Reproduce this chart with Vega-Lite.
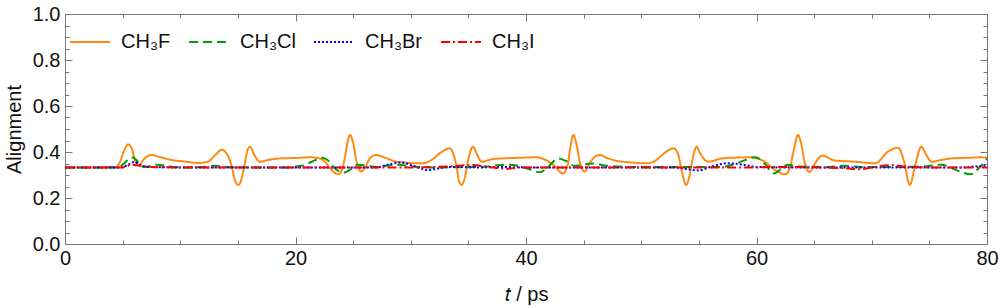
{
  "$schema": "https://vega.github.io/schema/vega-lite/v6.json",
  "width": 922,
  "height": 230,
  "padding": {"left": 65, "top": 14, "right": 13, "bottom": 64},
  "autosize": {"type": "none"},
  "background": "white",
  "config": {
    "font": "Liberation Sans",
    "view": {"stroke": "#777777", "strokeWidth": 1},
    "axis": {"grid": false, "domain": false, "labelFont": "Liberation Sans", "titleFont": "Liberation Sans", "tickColor": "#777777", "labelColor": "#111111", "titleColor": "#111111", "labelFlush": false, "labelOverlap": false}
  },
  "data": {"values": [
    {"m":"CH₃F","t":0,"v":0.333},{"m":"CH₃F","t":3.5,"v":0.333},{"m":"CH₃F","t":4.0,"v":0.336},{"m":"CH₃F","t":4.4,"v":0.334},{"m":"CH₃F","t":4.8,"v":0.36},{"m":"CH₃F","t":5.2,"v":0.415},{"m":"CH₃F","t":5.5,"v":0.433},{"m":"CH₃F","t":5.8,"v":0.415},{"m":"CH₃F","t":6.1,"v":0.36},{"m":"CH₃F","t":6.4,"v":0.343},{"m":"CH₃F","t":6.9,"v":0.372},{"m":"CH₃F","t":7.5,"v":0.387},{"m":"CH₃F","t":8.3,"v":0.377},{"m":"CH₃F","t":9.3,"v":0.365},{"m":"CH₃F","t":10.5,"v":0.358},{"m":"CH₃F","t":11.6,"v":0.352},{"m":"CH₃F","t":12.4,"v":0.358},{"m":"CH₃F","t":13.0,"v":0.385},{"m":"CH₃F","t":13.6,"v":0.41},{"m":"CH₃F","t":14.0,"v":0.395},{"m":"CH₃F","t":14.4,"v":0.35},{"m":"CH₃F","t":14.8,"v":0.27},{"m":"CH₃F","t":15.05,"v":0.257},{"m":"CH₃F","t":15.3,"v":0.28},{"m":"CH₃F","t":15.6,"v":0.35},{"m":"CH₃F","t":15.85,"v":0.41},{"m":"CH₃F","t":16.05,"v":0.423},{"m":"CH₃F","t":16.4,"v":0.39},{"m":"CH₃F","t":16.9,"v":0.358},{"m":"CH₃F","t":17.6,"v":0.365},{"m":"CH₃F","t":18.6,"v":0.372},{"m":"CH₃F","t":20.0,"v":0.374},{"m":"CH₃F","t":21.3,"v":0.377},{"m":"CH₃F","t":22.1,"v":0.372},{"m":"CH₃F","t":22.6,"v":0.355},{"m":"CH₃F","t":23.0,"v":0.329},{"m":"CH₃F","t":23.7,"v":0.303},{"m":"CH₃F","t":24.0,"v":0.32},{"m":"CH₃F","t":24.3,"v":0.38},{"m":"CH₃F","t":24.5,"v":0.44},{"m":"CH₃F","t":24.73,"v":0.474},{"m":"CH₃F","t":25.0,"v":0.44},{"m":"CH₃F","t":25.3,"v":0.36},{"m":"CH₃F","t":25.7,"v":0.315},{"m":"CH₃F","t":26.0,"v":0.33},{"m":"CH₃F","t":26.5,"v":0.375},{"m":"CH₃F","t":27.0,"v":0.387},{"m":"CH₃F","t":27.8,"v":0.375},{"m":"CH₃F","t":28.6,"v":0.36},{"m":"CH₃F","t":30.0,"v":0.352},{"m":"CH₃F","t":31.0,"v":0.351},{"m":"CH₃F","t":31.8,"v":0.365},{"m":"CH₃F","t":32.7,"v":0.401},{"m":"CH₃F","t":33.4,"v":0.416},{"m":"CH₃F","t":33.7,"v":0.39},{"m":"CH₃F","t":34.0,"v":0.33},{"m":"CH₃F","t":34.2,"v":0.27},{"m":"CH₃F","t":34.42,"v":0.257},{"m":"CH₃F","t":34.7,"v":0.29},{"m":"CH₃F","t":35.0,"v":0.37},{"m":"CH₃F","t":35.4,"v":0.423},{"m":"CH₃F","t":35.7,"v":0.395},{"m":"CH₃F","t":36.15,"v":0.358},{"m":"CH₃F","t":37.0,"v":0.368},{"m":"CH₃F","t":37.9,"v":0.372},{"m":"CH₃F","t":39.5,"v":0.375},{"m":"CH₃F","t":40.8,"v":0.377},{"m":"CH₃F","t":41.5,"v":0.37},{"m":"CH₃F","t":42.4,"v":0.343},{"m":"CH₃F","t":43.2,"v":0.307},{"m":"CH₃F","t":43.6,"v":0.34},{"m":"CH₃F","t":43.85,"v":0.42},{"m":"CH₃F","t":44.1,"v":0.474},{"m":"CH₃F","t":44.4,"v":0.43},{"m":"CH₃F","t":44.7,"v":0.35},{"m":"CH₃F","t":45.1,"v":0.315},{"m":"CH₃F","t":45.5,"v":0.35},{"m":"CH₃F","t":46.0,"v":0.38},{"m":"CH₃F","t":46.4,"v":0.387},{"m":"CH₃F","t":47.0,"v":0.375},{"m":"CH₃F","t":47.9,"v":0.361},{"m":"CH₃F","t":49.0,"v":0.355},{"m":"CH₃F","t":50.5,"v":0.351},{"m":"CH₃F","t":51.3,"v":0.365},{"m":"CH₃F","t":52.0,"v":0.395},{"m":"CH₃F","t":52.8,"v":0.416},{"m":"CH₃F","t":53.2,"v":0.39},{"m":"CH₃F","t":53.5,"v":0.32},{"m":"CH₃F","t":53.9,"v":0.257},{"m":"CH₃F","t":54.2,"v":0.3},{"m":"CH₃F","t":54.5,"v":0.38},{"m":"CH₃F","t":54.8,"v":0.423},{"m":"CH₃F","t":55.1,"v":0.395},{"m":"CH₃F","t":55.8,"v":0.358},{"m":"CH₃F","t":57.0,"v":0.372},{"m":"CH₃F","t":58.5,"v":0.376},{"m":"CH₃F","t":59.6,"v":0.377},{"m":"CH₃F","t":60.7,"v":0.358},{"m":"CH₃F","t":61.6,"v":0.322},{"m":"CH₃F","t":62.5,"v":0.303},{"m":"CH₃F","t":62.9,"v":0.33},{"m":"CH₃F","t":63.2,"v":0.4},{"m":"CH₃F","t":63.6,"v":0.474},{"m":"CH₃F","t":63.9,"v":0.43},{"m":"CH₃F","t":64.2,"v":0.35},{"m":"CH₃F","t":64.6,"v":0.313},{"m":"CH₃F","t":65.0,"v":0.345},{"m":"CH₃F","t":65.7,"v":0.384},{"m":"CH₃F","t":66.8,"v":0.363},{"m":"CH₃F","t":68.5,"v":0.358},{"m":"CH₃F","t":70.3,"v":0.351},{"m":"CH₃F","t":71.4,"v":0.401},{"m":"CH₃F","t":72.3,"v":0.419},{"m":"CH₃F","t":72.8,"v":0.36},{"m":"CH₃F","t":73.3,"v":0.257},{"m":"CH₃F","t":73.8,"v":0.35},{"m":"CH₃F","t":74.3,"v":0.423},{"m":"CH₃F","t":74.7,"v":0.39},{"m":"CH₃F","t":75.2,"v":0.357},{"m":"CH₃F","t":76.0,"v":0.365},{"m":"CH₃F","t":76.9,"v":0.372},{"m":"CH₃F","t":78.5,"v":0.375},{"m":"CH₃F","t":79.5,"v":0.377},{"m":"CH₃F","t":80,"v":0.375},
    {"m":"CH₃Cl","t":0,"v":0.333},{"m":"CH₃Cl","t":4.5,"v":0.333},{"m":"CH₃Cl","t":5.0,"v":0.345},{"m":"CH₃Cl","t":5.5,"v":0.368},{"m":"CH₃Cl","t":5.8,"v":0.377},{"m":"CH₃Cl","t":6.2,"v":0.365},{"m":"CH₃Cl","t":6.6,"v":0.338},{"m":"CH₃Cl","t":7.0,"v":0.335},{"m":"CH₃Cl","t":7.9,"v":0.345},{"m":"CH₃Cl","t":9.0,"v":0.338},{"m":"CH₃Cl","t":10,"v":0.333},{"m":"CH₃Cl","t":12,"v":0.335},{"m":"CH₃Cl","t":13,"v":0.34},{"m":"CH₃Cl","t":14,"v":0.335},{"m":"CH₃Cl","t":16,"v":0.333},{"m":"CH₃Cl","t":19,"v":0.333},{"m":"CH₃Cl","t":20.5,"v":0.34},{"m":"CH₃Cl","t":21.5,"v":0.36},{"m":"CH₃Cl","t":22.3,"v":0.375},{"m":"CH₃Cl","t":22.9,"v":0.36},{"m":"CH₃Cl","t":23.5,"v":0.325},{"m":"CH₃Cl","t":24.2,"v":0.31},{"m":"CH₃Cl","t":24.8,"v":0.325},{"m":"CH₃Cl","t":25.4,"v":0.345},{"m":"CH₃Cl","t":26.2,"v":0.34},{"m":"CH₃Cl","t":27,"v":0.335},{"m":"CH₃Cl","t":28.8,"v":0.345},{"m":"CH₃Cl","t":30,"v":0.338},{"m":"CH₃Cl","t":32,"v":0.333},{"m":"CH₃Cl","t":36,"v":0.335},{"m":"CH₃Cl","t":38.4,"v":0.345},{"m":"CH₃Cl","t":39.5,"v":0.338},{"m":"CH₃Cl","t":40.3,"v":0.325},{"m":"CH₃Cl","t":41.2,"v":0.312},{"m":"CH₃Cl","t":41.9,"v":0.335},{"m":"CH₃Cl","t":42.8,"v":0.372},{"m":"CH₃Cl","t":43.5,"v":0.36},{"m":"CH₃Cl","t":44.2,"v":0.34},{"m":"CH₃Cl","t":45.8,"v":0.35},{"m":"CH₃Cl","t":47,"v":0.34},{"m":"CH₃Cl","t":49,"v":0.335},{"m":"CH₃Cl","t":52,"v":0.335},{"m":"CH₃Cl","t":57,"v":0.335},{"m":"CH₃Cl","t":58.5,"v":0.355},{"m":"CH₃Cl","t":59.9,"v":0.377},{"m":"CH₃Cl","t":60.7,"v":0.35},{"m":"CH₃Cl","t":61.5,"v":0.307},{"m":"CH₃Cl","t":62.1,"v":0.325},{"m":"CH₃Cl","t":62.7,"v":0.345},{"m":"CH₃Cl","t":63.5,"v":0.337},{"m":"CH₃Cl","t":66,"v":0.335},{"m":"CH₃Cl","t":67.6,"v":0.34},{"m":"CH₃Cl","t":69,"v":0.335},{"m":"CH₃Cl","t":72,"v":0.335},{"m":"CH₃Cl","t":74.5,"v":0.337},{"m":"CH₃Cl","t":76,"v":0.345},{"m":"CH₃Cl","t":77.5,"v":0.318},{"m":"CH₃Cl","t":78.6,"v":0.303},{"m":"CH₃Cl","t":79.3,"v":0.33},{"m":"CH₃Cl","t":80,"v":0.372},
    {"m":"CH₃Br","t":0,"v":0.333},{"m":"CH₃Br","t":4.8,"v":0.333},{"m":"CH₃Br","t":5.5,"v":0.345},{"m":"CH₃Br","t":6.0,"v":0.357},{"m":"CH₃Br","t":6.5,"v":0.345},{"m":"CH₃Br","t":7.2,"v":0.335},{"m":"CH₃Br","t":10,"v":0.333},{"m":"CH₃Br","t":27,"v":0.333},{"m":"CH₃Br","t":28,"v":0.345},{"m":"CH₃Br","t":29.2,"v":0.355},{"m":"CH₃Br","t":30.2,"v":0.34},{"m":"CH₃Br","t":31.5,"v":0.322},{"m":"CH₃Br","t":32.5,"v":0.33},{"m":"CH₃Br","t":33.5,"v":0.335},{"m":"CH₃Br","t":36,"v":0.333},{"m":"CH₃Br","t":38,"v":0.335},{"m":"CH₃Br","t":40,"v":0.333},{"m":"CH₃Br","t":53,"v":0.333},{"m":"CH₃Br","t":54.0,"v":0.325},{"m":"CH₃Br","t":55.0,"v":0.32},{"m":"CH₃Br","t":56.0,"v":0.335},{"m":"CH₃Br","t":57.5,"v":0.351},{"m":"CH₃Br","t":58.8,"v":0.345},{"m":"CH₃Br","t":60,"v":0.335},{"m":"CH₃Br","t":62,"v":0.333},{"m":"CH₃Br","t":78,"v":0.333},{"m":"CH₃Br","t":79,"v":0.338},{"m":"CH₃Br","t":80,"v":0.34},
    {"m":"CH₃I","t":0,"v":0.333},{"m":"CH₃I","t":5,"v":0.333},{"m":"CH₃I","t":5.8,"v":0.345},{"m":"CH₃I","t":6.5,"v":0.34},{"m":"CH₃I","t":7.5,"v":0.335},{"m":"CH₃I","t":10,"v":0.333},{"m":"CH₃I","t":30,"v":0.333},{"m":"CH₃I","t":33.5,"v":0.338},{"m":"CH₃I","t":35.3,"v":0.343},{"m":"CH₃I","t":36.5,"v":0.337},{"m":"CH₃I","t":38.4,"v":0.327},{"m":"CH₃I","t":39.5,"v":0.333},{"m":"CH₃I","t":42,"v":0.333},{"m":"CH₃I","t":60,"v":0.333},{"m":"CH₃I","t":61,"v":0.335},{"m":"CH₃I","t":67.5,"v":0.33},{"m":"CH₃I","t":69,"v":0.325},{"m":"CH₃I","t":70,"v":0.333},{"m":"CH₃I","t":71.7,"v":0.343},{"m":"CH₃I","t":72.8,"v":0.337},{"m":"CH₃I","t":75,"v":0.333},{"m":"CH₃I","t":80,"v":0.333}
  ]},
  "resolve": {"axis": {"x": "independent", "y": "independent"}},
  "layer": [
    {
      "mark": {"type": "line", "strokeWidth": 2, "interpolate": "monotone", "clip": true},
      "encoding": {
        "x": {"field": "t", "type": "quantitative", "scale": {"domain": [0, 80], "nice": false, "zero": false},
          "axis": {"orient": "bottom", "values": [0, 20, 40, 60, 80], "ticks": false, "labelFontSize": 20, "labelPadding": 4, "title": "𝑡 / ps", "titleFontSize": 20, "titleFontWeight": "normal", "titlePadding": 16}},
        "y": {"field": "v", "type": "quantitative", "scale": {"domain": [0, 1], "nice": false},
          "axis": {"orient": "left", "values": [0, 0.2, 0.4, 0.6, 0.8, 1.0], "format": ".1f", "ticks": false, "labelFontSize": 20, "labelPadding": 5, "title": "Alignment", "titleFontSize": 20, "titleFontWeight": "normal", "titlePadding": 8}},
        "color": {"field": "m", "type": "nominal", "sort": null,
          "scale": {"domain": ["CH₃F", "CH₃Cl", "CH₃Br", "CH₃I"], "range": ["#ff8a12", "#00a000", "#0000ff", "#ff0000"]},
          "legend": {"title": null, "orient": "none", "legendX": 4, "legendY": 7, "direction": "horizontal", "columns": 4, "labelFontSize": 20, "labelColor": "#111111", "symbolType": "stroke", "symbolSize": 1600, "symbolStrokeWidth": 2, "labelOffset": 10, "columnPadding": 14, "labelLimit": 200}},
        "strokeDash": {"field": "m", "type": "nominal", "sort": null,
          "scale": {"domain": ["CH₃F", "CH₃Cl", "CH₃Br", "CH₃I"], "range": [[1, 0], [9, 5], [2, 2], [9, 3, 2, 3]]},
          "legend": {"title": null, "orient": "none", "legendX": 4, "legendY": 7, "direction": "horizontal", "columns": 4, "labelFontSize": 20, "symbolType": "stroke", "symbolSize": 1600, "symbolStrokeWidth": 2, "labelOffset": 10, "columnPadding": 14, "labelLimit": 200}},
        "order": {"field": "t", "type": "quantitative"}
      }
    },
    {
      "mark": {"type": "point", "opacity": 0},
      "encoding": {
        "x": {"field": "t", "type": "quantitative", "axis": {"orient": "bottom", "values": [0, 20, 40, 60, 80], "tickSize": -7, "labels": false, "title": null}},
        "y": {"field": "v", "type": "quantitative", "axis": {"orient": "left", "values": [0, 0.2, 0.4, 0.6, 0.8, 1.0], "tickSize": -7, "labels": false, "title": null}}
      }
    },
    {
      "mark": {"type": "point", "opacity": 0},
      "encoding": {
        "x": {"field": "t", "type": "quantitative", "axis": {"orient": "bottom", "values": [5, 10, 15, 25, 30, 35, 45, 50, 55, 65, 70, 75], "tickSize": -4, "labels": false, "title": null}},
        "y": {"field": "v", "type": "quantitative", "axis": {"orient": "left", "values": [0.05, 0.1, 0.15, 0.25, 0.3, 0.35, 0.45, 0.5, 0.55, 0.65, 0.7, 0.75, 0.85, 0.9, 0.95], "tickSize": -4, "labels": false, "title": null}}
      }
    },
    {
      "mark": {"type": "point", "opacity": 0},
      "encoding": {
        "x": {"field": "t", "type": "quantitative", "axis": {"orient": "top", "values": [0, 20, 40, 60, 80], "tickSize": -7, "labels": false, "title": null}},
        "y": {"field": "v", "type": "quantitative", "axis": {"orient": "right", "values": [0, 0.2, 0.4, 0.6, 0.8, 1.0], "tickSize": -7, "labels": false, "title": null}}
      }
    },
    {
      "mark": {"type": "point", "opacity": 0},
      "encoding": {
        "x": {"field": "t", "type": "quantitative", "axis": {"orient": "top", "values": [5, 10, 15, 25, 30, 35, 45, 50, 55, 65, 70, 75], "tickSize": -4, "labels": false, "title": null}},
        "y": {"field": "v", "type": "quantitative", "axis": {"orient": "right", "values": [0.05, 0.1, 0.15, 0.25, 0.3, 0.35, 0.45, 0.5, 0.55, 0.65, 0.7, 0.75, 0.85, 0.9, 0.95], "tickSize": -4, "labels": false, "title": null}}
      }
    }
  ]
}
